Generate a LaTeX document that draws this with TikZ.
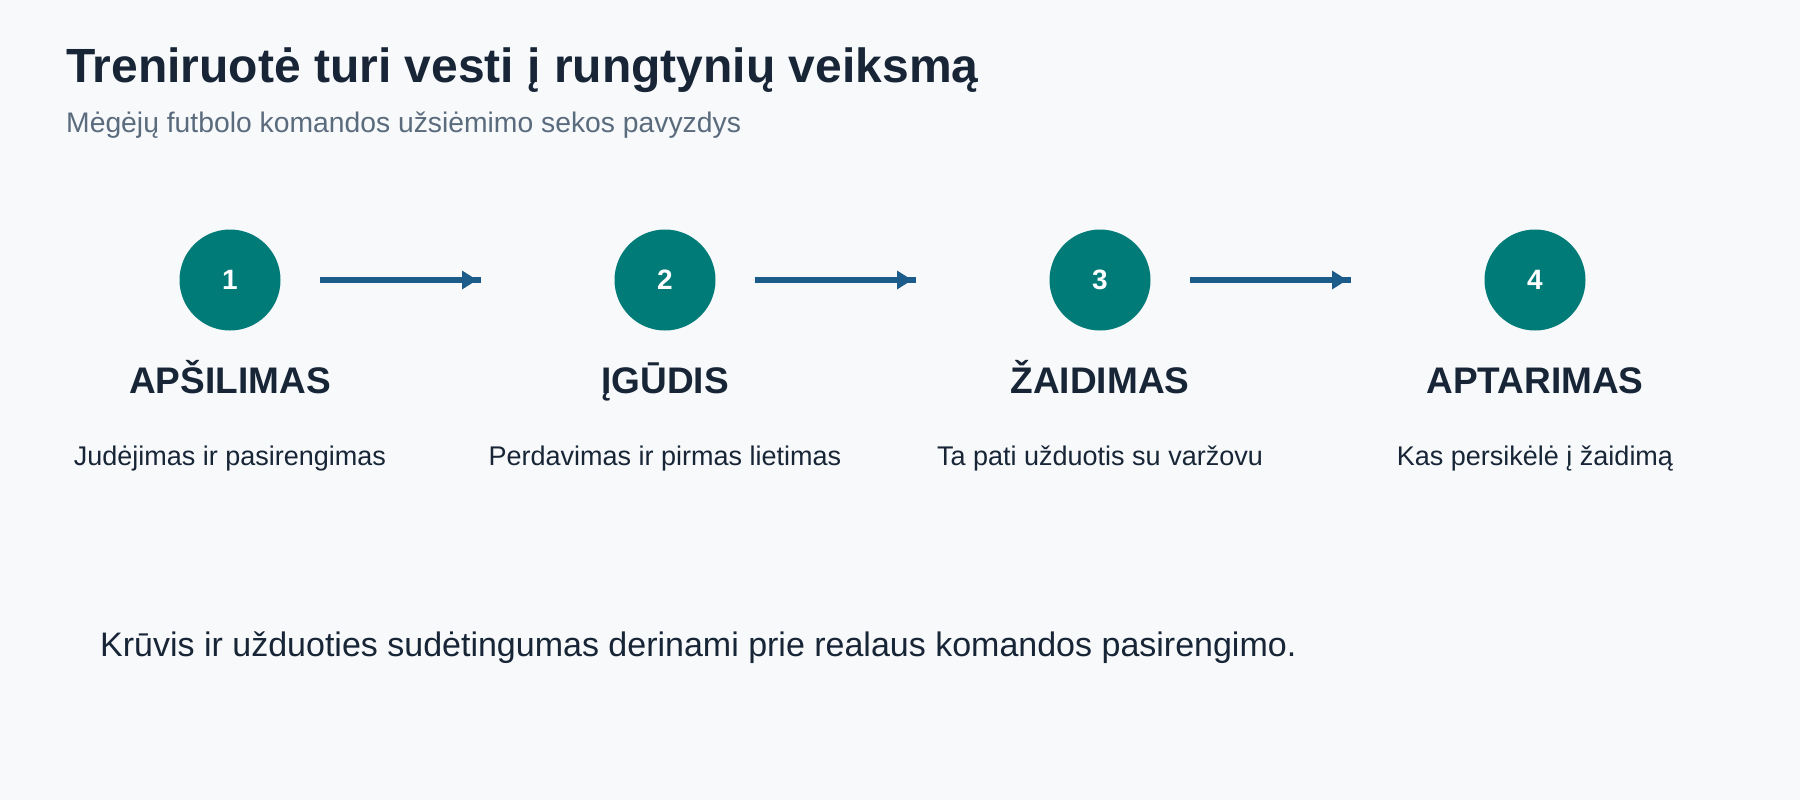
\documentclass[tikz,border=0pt]{standalone}
\usepackage{fontspec}
\setmainfont{Liberation Sans}
\definecolor{bgc}{HTML}{F7F9FB}
\definecolor{titlec}{HTML}{172536}
\definecolor{subc}{HTML}{5A6B7D}
\definecolor{tealc}{HTML}{007B78}
\definecolor{arrowc}{HTML}{1B5C8A}
\tikzset{
  stepcircle/.style={circle, fill=tealc, minimum size=101pt, inner sep=0pt, text=white, font=\fontsize{28}{32}\selectfont\bfseries},
  steptitle/.style={anchor=base, text=titlec, inner sep=0pt, font=\fontsize{37}{44}\selectfont\bfseries},
  stepdesc/.style={anchor=base, text=titlec, inner sep=0pt, font=\fontsize{27}{32}\selectfont},
  flowline/.style={draw=arrowc, line width=6pt},
  flowhead/.style={fill=arrowc, draw=none}
}
\begin{document}
\begin{tikzpicture}[x=1pt,y=-1pt]
\fill[bgc] (0,0) rectangle (1800,800);
\useasboundingbox (0,0) rectangle (1800,800);
\node[anchor=base west, inner sep=0pt, text=titlec, font=\fontsize{48}{56}\selectfont\bfseries] (title) at (66,83) {Treniruotė turi vesti į rungtynių veiksmą};
\node[anchor=base west, inner sep=0pt, text=subc, font=\fontsize{28.3}{34}\selectfont] (subtitle) at (66,132) {Mėgėjų futbolo komandos užsiėmimo sekos pavyzdys};
\foreach \i/\x/\t/\d in {1/230/APŠILIMAS/Judėjimas ir pasirengimas, 2/665/ĮGŪDIS/Perdavimas ir pirmas lietimas, 3/1100/ŽAIDIMAS/Ta pati užduotis su varžovu, 4/1535/APTARIMAS/Kas persikėlė į žaidimą}{
  \node[stepcircle] (c\i) at (\x,280) {\i};
  \node[steptitle] (t\i) at (\x,393) {\t};
  \node[stepdesc] (d\i) at (\x,465) {\d};
}
\foreach \i/\j in {1/2,2/3,3/4}{
  \draw[flowline] ([xshift=90pt]c\i.center) -- ([xshift=-184pt]c\j.center);
  \fill[flowhead] ([xshift=-203pt,yshift=9.5pt]c\j.center) -- ([xshift=-188pt]c\j.center) -- ([xshift=-203pt,yshift=-9.5pt]c\j.center) -- cycle;
}
\node[anchor=base west, inner sep=0pt, text=titlec, font=\fontsize{34}{40}\selectfont] (note) at (100,656) {Krūvis ir užduoties sudėtingumas derinami prie realaus komandos pasirengimo.};
\end{tikzpicture}
\end{document}
